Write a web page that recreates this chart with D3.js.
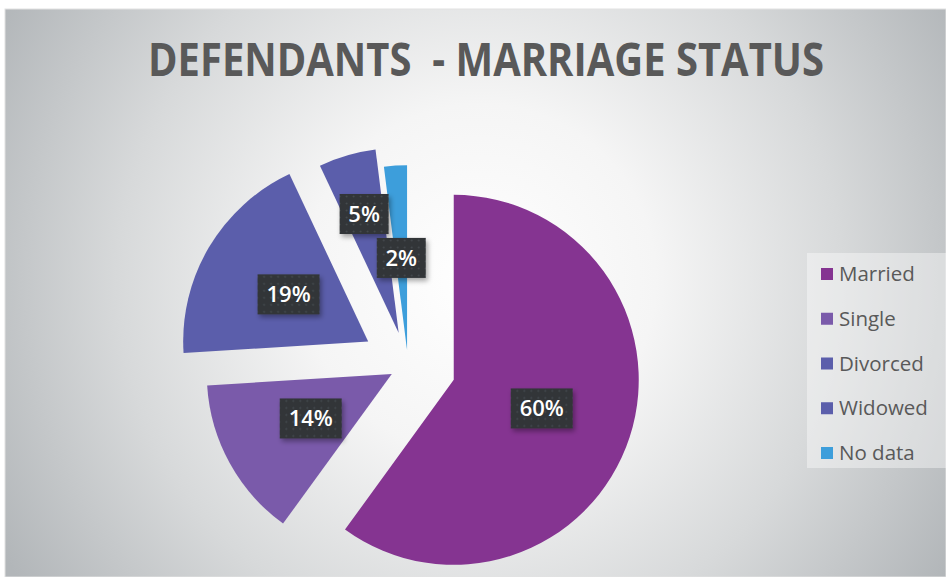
<!DOCTYPE html>
<html lang="en">
<head>
<meta charset="UTF-8">
<title>Defendants - Marriage Status</title>
<script src="https://d3js.org/d3.v7.min.js"></script>
<style>
  body { margin: 0; padding: 0; background: #fff; }
  svg { display: block; }
</style>
</head>
<body>
<svg id="chart" width="946" height="577"></svg>
<script>
  // data
  const categories = ["Married", "Single", "Divorced", "Widowed", "No data"];
  const shares = [60, 14, 19, 5, 2];
  const colors = ["#853491", "#7a5aaa", "#5b5eab", "#5b5eab", "#3d9edb"];
  const titleText = "DEFENDANTS  - MARRIAGE STATUS";

  // per-slice look (explosion and label distance, as fraction of radius)
  const explode = [0.26, 0.10, 0.25, 0.18, 0.08];
  const labelAt = [0.5, 0.5, 0.5, 0.67, 0.5];

  const width = 946, height = 577;
  const svg = d3.select("#chart");
  const defs = svg.append("defs");

  // background: white centre fading to grey
  const bg = defs.append("radialGradient")
    .attr("id", "bgGrad")
    .attr("gradientUnits", "userSpaceOnUse")
    .attr("cx", 480).attr("cy", 280).attr("r", 550);
  bg.append("stop").attr("offset", 0).attr("stop-color", "#ffffff");
  bg.append("stop").attr("offset", 0.32).attr("stop-color", "#f5f5f5");
  bg.append("stop").attr("offset", 0.66).attr("stop-color", "#d7d9da");
  bg.append("stop").attr("offset", 1).attr("stop-color", "#b2b6b9");

  const dots = defs.append("pattern")
    .attr("id", "dots")
    .attr("patternUnits", "userSpaceOnUse")
    .attr("width", 7).attr("height", 7);
  dots.append("rect").attr("width", 7).attr("height", 7).attr("fill", "#303437");
  dots.append("circle").attr("cx", 3.5).attr("cy", 3.5).attr("r", 1).attr("fill", "#474c50");

  const shadow = defs.append("filter").attr("id", "shadow")
    .attr("x", "-20%").attr("y", "-20%").attr("width", "150%").attr("height", "160%");
  shadow.append("feDropShadow")
    .attr("dx", 2).attr("dy", 3).attr("stdDeviation", 2.5)
    .attr("flood-color", "#000").attr("flood-opacity", 0.35);

  svg.append("rect")
    .attr("x", 5).attr("y", 9)
    .attr("width", width - 5).attr("height", height - 9)
    .attr("fill", "url(#bgGrad)")
    .attr("stroke", "#e2e2e2").attr("stroke-width", 1);

  // title
  svg.append("text")
    .attr("x", 486).attr("y", 76)
    .attr("text-anchor", "middle")
    .attr("textLength", 676)
    .attr("lengthAdjust", "spacingAndGlyphs")
    .style("white-space", "pre")
    .style("font-family", "'Open Sans', sans-serif")
    .style("font-weight", "bold")
    .style("font-size", "47px")
    .attr("fill", "#595959")
    .text(titleText);

  // pie
  const cx = 408, cy = 365, radius = 185;
  const pie = d3.pie().sort(null).value(d => d)(shares);
  const arc = d3.arc().innerRadius(0).outerRadius(radius);

  const offset = (d, k) => {
    const a = (d.startAngle + d.endAngle) / 2;
    return [Math.sin(a) * k, -Math.cos(a) * k];
  };

  const g = svg.append("g").attr("transform", `translate(${cx},${cy})`);

  const slices = g.selectAll("g.slice")
    .data(pie)
    .enter().append("g")
    .attr("class", "slice")
    .attr("transform", (d, i) => {
      const [x, y] = offset(d, explode[i] * radius);
      return `translate(${x},${y})`;
    });

  slices.append("path")
    .attr("d", arc)
    .attr("fill", (d, i) => colors[i]);

  // data labels drawn on top of every slice
  const labels = g.selectAll("g.lbl")
    .data(pie)
    .enter().append("g")
    .attr("class", "lbl")
    .attr("transform", (d, i) => {
      const [ex, ey] = offset(d, explode[i] * radius);
      const [lx, ly] = offset(d, labelAt[i] * radius);
      return `translate(${ex + lx},${ey + ly})`;
    });

  labels.append("rect")
    .attr("x", d => d.data >= 10 ? -31 : -24.5)
    .attr("y", -20)
    .attr("width", d => d.data >= 10 ? 62 : 49)
    .attr("height", 40)
    .attr("fill", "url(#dots)")
    .attr("filter", "url(#shadow)");

  labels.append("text")
    .attr("text-anchor", "middle")
    .attr("y", 8)
    .style("font-family", "'Open Sans', sans-serif")
    .style("font-weight", "600")
    .style("font-size", "22px")
    .attr("fill", "#ffffff")
    .text(d => d.data + "%");

  // legend
  const legendY = d3.scaleLinear().domain([0, categories.length - 1]).range([274, 453]);

  svg.append("rect")
    .attr("x", 807).attr("y", 253)
    .attr("width", width - 807).attr("height", 215)
    .attr("fill", "#ffffff").attr("fill-opacity", 0.4);

  const items = svg.selectAll("g.legend")
    .data(categories)
    .enter().append("g")
    .attr("class", "legend")
    .attr("transform", (d, i) => `translate(821,${legendY(i)})`);

  items.append("rect")
    .attr("x", 0).attr("y", -6)
    .attr("width", 12).attr("height", 12)
    .attr("fill", (d, i) => colors[i]);

  items.append("text")
    .attr("x", 18).attr("y", 7)
    .style("font-family", "'Open Sans', sans-serif")
    .style("font-size", "20.5px")
    .attr("fill", "#595959")
    .text(d => d);
</script>
</body>
</html>
